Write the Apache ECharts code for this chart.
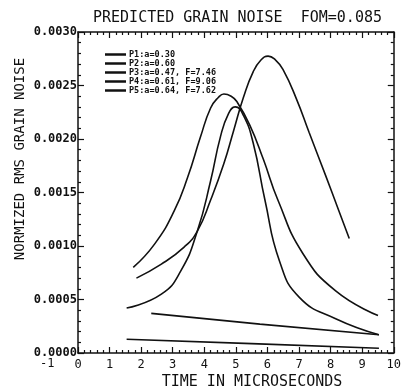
<!DOCTYPE html>
<html>
<head>
<meta charset="utf-8">
<script src="https://cdn.jsdelivr.net/npm/echarts@6/dist/echarts.min.js"></script>
<style>
  html, body { margin: 0; padding: 0; background: #fff; }
  #chart { width: 404px; height: 392px; }
</style>
</head>
<body>
<div id="chart"></div>
<script>
  // 曲线数据
  const seriesNames = ['P1:a=0.30', 'P2:a=0.60', 'P3:a=0.47, F=7.46', 'P4:a=0.61, F=9.06', 'P5:a=0.64, F=7.62']

  const p1Time = [1.75, 2.43, 3.05, 3.47, 3.88, 4.20, 4.45, 4.62, 4.85, 5.03, 5.44, 5.87, 6.33, 7.12, 8.16, 9.50]
  const p1Noise = [0.00080, 0.00102, 0.00133, 0.00164, 0.00202, 0.00229, 0.00239, 0.00242, 0.00240, 0.00235, 0.00213, 0.00181, 0.00143, 0.00093, 0.00058, 0.00035]

  const p2Time = [1.54, 2.64, 3.26, 3.78, 4.20, 4.51, 4.77, 4.98, 5.24, 5.55, 5.92, 6.38, 7.01, 8.16, 9.53]
  const p2Noise = [0.00042, 0.00055, 0.00077, 0.00114, 0.00161, 0.00202, 0.00224, 0.00230, 0.00222, 0.00196, 0.00143, 0.00086, 0.00052, 0.00032, 0.00017]

  const p3Time = [1.85, 2.64, 3.36, 3.78, 4.20, 4.62, 4.93, 5.24, 5.55, 5.80, 6.02, 6.25, 6.49, 6.91, 7.32, 7.84, 8.26, 8.59]
  const p3Noise = [0.00070, 0.00083, 0.00099, 0.00114, 0.00143, 0.00177, 0.00208, 0.00239, 0.00263, 0.00274, 0.002775, 0.00274, 0.00265, 0.00238, 0.00206, 0.00166, 0.00133, 0.00107]

  const p4Time = [2.32, 5.76, 9.53]
  const p4Noise = [0.00037, 0.00027, 0.00017]

  const p5Time = [1.54, 5.50, 9.53]
  const p5Noise = [0.000128, 0.000088, 0.000044]

  const xTickLabels = ['0', '1', '2', '3', '4', '5', '6', '7', '8', '9', '10']
  const yTickLabels = ['0.0000', '0.0005', '0.0010', '0.0015', '0.0020', '0.0025', '0.0030']

  function zip(xs, ys) {
    return xs.map((x, i) => [x, ys[i]])
  }

  const font = 'DejaVu Sans Mono'
  const allData = [zip(p1Time, p1Noise), zip(p2Time, p2Noise), zip(p3Time, p3Noise), zip(p4Time, p4Noise), zip(p5Time, p5Noise)]

  const tickStyle = {
    axisLine: { show: true, onZero: false, lineStyle: { color: '#111', width: 1.5 } },
    axisTick: { show: true, inside: true, length: 6, lineStyle: { color: '#111', width: 1.2 } },
    minorTick: { show: true, splitNumber: 5, length: 3, lineStyle: { color: '#111', width: 1.2 } },
    splitLine: { show: false }
  }

  const myChart = echarts.init(document.getElementById('chart'))
  myChart.setOption({
    backgroundColor: '#fff',
    animation: false,
    title: {
      text: 'PREDICTED GRAIN NOISE  FOM=0.085',
      left: 88,
      top: 6,
      textStyle: { fontFamily: font, fontSize: 15, fontWeight: 'normal', color: '#111' }
    },
    legend: {
      orient: 'vertical',
      left: 100,
      top: 45,
      itemGap: 0,
      itemWidth: 21,
      itemHeight: 2.5,
      icon: 'rect',
      data: seriesNames,
      textStyle: { fontFamily: font, fontSize: 8.5, fontWeight: 'bold', lineHeight: 7, color: '#111', padding: [0, 0, 0, -2] }
    },
    grid: { left: 78, right: 5, top: 32, bottom: 39 },
    xAxis: [
      {
        type: 'value', min: 0, max: 10, interval: 1, position: 'bottom',
        ...tickStyle,
        axisLabel: {
          margin: 6, fontFamily: font, fontSize: 12, color: '#111',
          formatter: (v) => xTickLabels[Math.round(v)]
        }
      },
      {
        type: 'value', min: 0, max: 10, interval: 1, position: 'top',
        ...tickStyle,
        axisLabel: { show: false }
      }
    ],
    yAxis: [
      {
        type: 'value', min: 0, max: 0.003, interval: 0.0005, position: 'left',
        ...tickStyle,
        axisLabel: {
          margin: 1, fontFamily: font, fontSize: 12, fontWeight: 'bold', color: '#111',
          formatter: (v) => yTickLabels[Math.round(v / 0.0005)]
        }
      },
      {
        type: 'value', min: 0, max: 0.003, interval: 0.0005, position: 'right',
        ...tickStyle,
        axisLabel: { show: false }
      }
    ],
    graphic: [
      {
        type: 'text', left: 40, top: 358,
        style: { text: '-1', font: '12px "DejaVu Sans Mono"', fill: '#111' }
      },
      {
        type: 'text', x: 252, y: 382,
        style: { text: 'TIME IN MICROSECONDS', font: '15px "DejaVu Sans Mono"', fill: '#111', align: 'center', verticalAlign: 'middle' }
      },
      {
        type: 'text', x: 20, y: 159, rotation: Math.PI / 2,
        style: { text: 'NORMIZED RMS GRAIN NOISE', font: '14px "DejaVu Sans Mono"', fill: '#111', align: 'center', verticalAlign: 'middle' }
      }
    ],
    series: allData.map((d, i) => ({
      name: seriesNames[i],
      type: 'line',
      data: d,
      smooth: 0.5,
      symbol: 'none',
      color: '#111',
      lineStyle: { color: '#111', width: 1.6 }
    }))
  })
</script>
</body>
</html>
